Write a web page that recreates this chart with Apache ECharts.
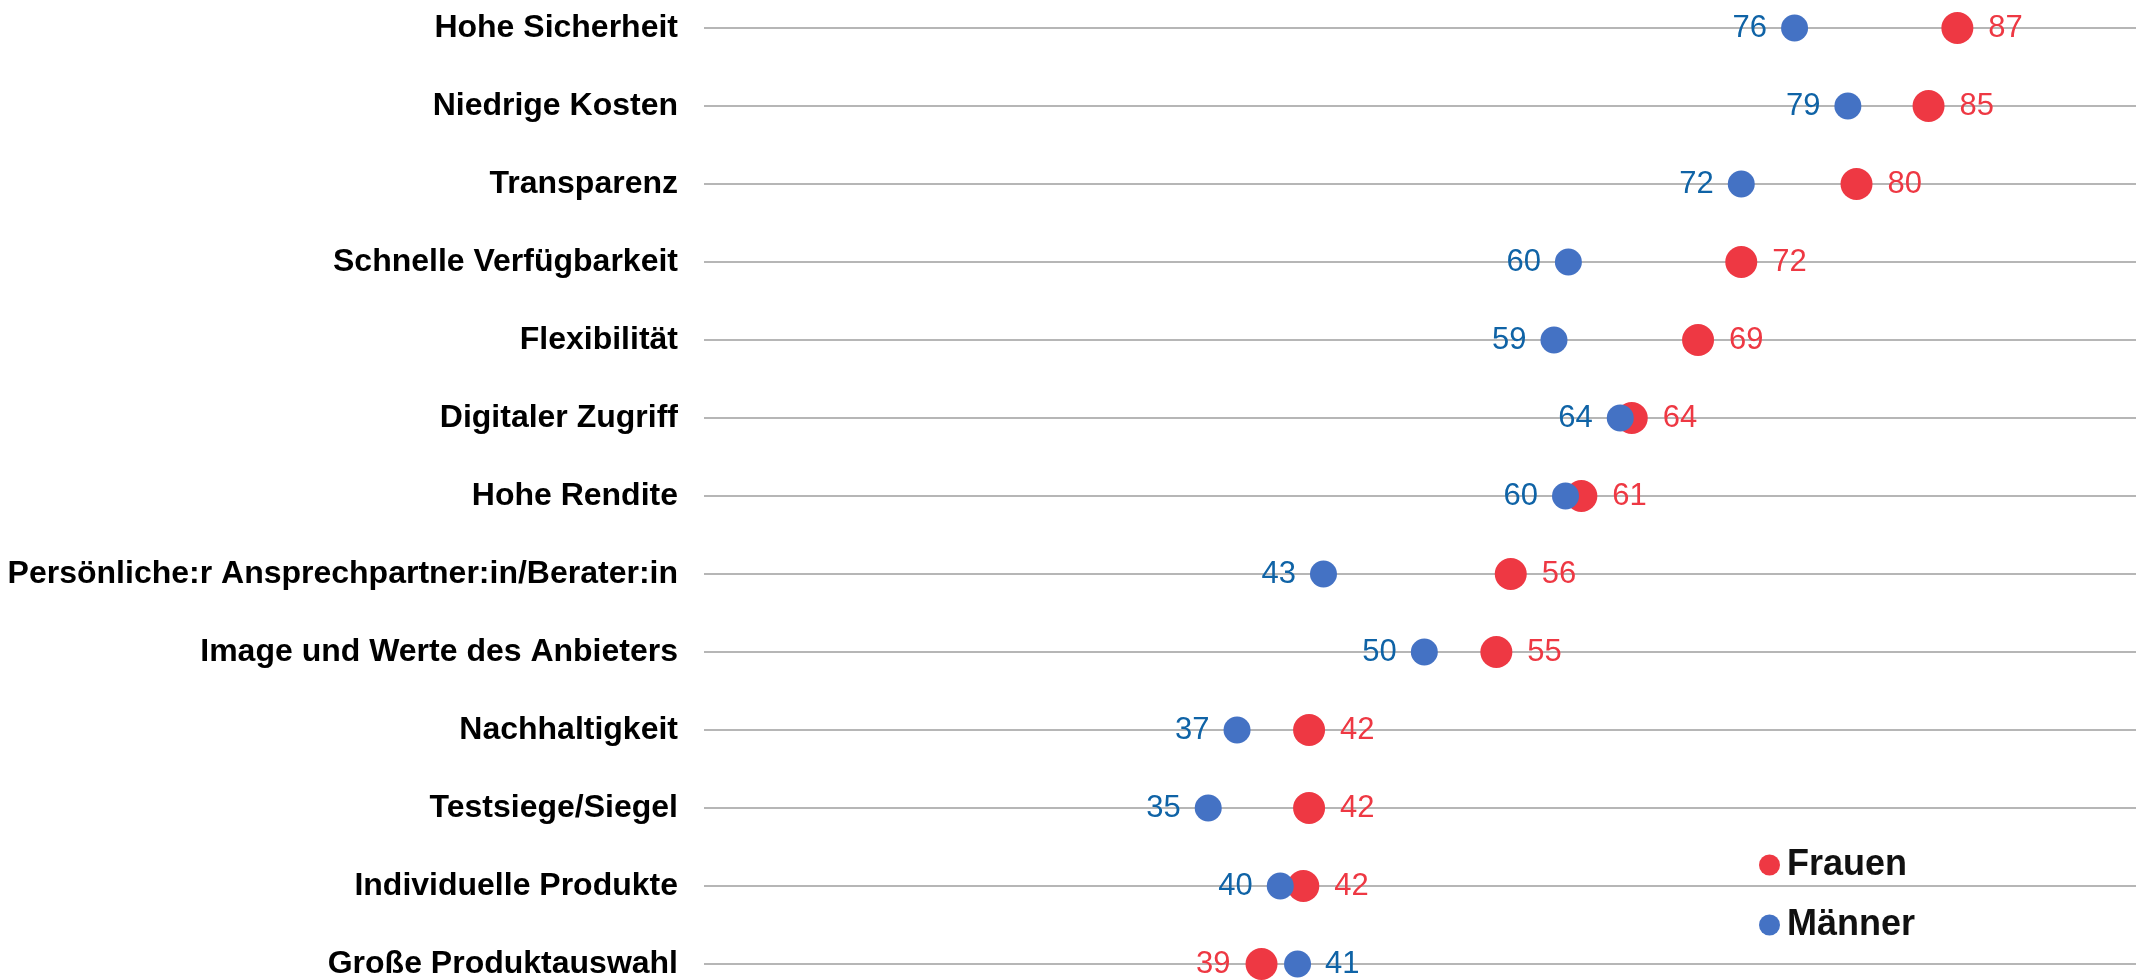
<!DOCTYPE html>
<html>
<head>
<meta charset="utf-8">
<script src="https://cdn.jsdelivr.net/npm/echarts@6/dist/echarts.min.js"></script>
<style>
  html, body { margin: 0; padding: 0; background: #fff; }
  #chart { width: 2136px; height: 980px; }
</style>
</head>
<body>
<div id="chart"></div>
<script>
// Kategorien (von oben nach unten)
const categories = [
  'Hohe Sicherheit',
  'Niedrige Kosten',
  'Transparenz',
  'Schnelle Verfügbarkeit',
  'Flexibilität',
  'Digitaler Zugriff',
  'Hohe Rendite',
  'Persönliche:r Ansprechpartner:in/Berater:in',
  'Image und Werte des Anbieters',
  'Nachhaltigkeit',
  'Testsiege/Siegel',
  'Individuelle Produkte',
  'Große Produktauswahl'
]

// Werte in % (Dezimalen dort, wo die Punkte sichtbar vom gerundeten Wert abweichen)
const frauen = [87, 85, 80, 72, 69, 64.4, 60.9, 56, 55, 42, 42, 41.6, 38.7]
const maenner = [75.7, 79.4, 72, 60, 59, 63.6, 59.8, 43, 50, 37, 35, 40, 41.2]

const RED = '#EE3843'
const BLUE = '#4472C4'
const BLUE_TEXT = '#0F63A6'

// Label rechts beim größeren Wert, links beim kleineren
const buildData = (own, other) => own.map((v, i) => ({
  value: [v, categories[i]],
  label: { position: v >= other[i] ? 'right' : 'left' }
}))

const chart = echarts.init(document.getElementById('chart'))
chart.setOption({
  animation: false,
  textStyle: { fontFamily: 'Liberation Sans, Arial, sans-serif' },
  grid: { left: 704, right: 0, top: 28, bottom: 11 },
  legend: {
    orient: 'vertical',
    left: 1754,
    top: 842,
    itemGap: 24,
    icon: 'circle',
    itemWidth: 21,
    itemHeight: 21,
    data: ['Frauen', 'Männer'],
    textStyle: { fontSize: 36, fontWeight: 'bold', color: '#111', padding: [0, 0, 0, 2] }
  },
  xAxis: {
    type: 'value',
    min: 0,
    max: 99.4,
    show: false
  },
  yAxis: {
    type: 'category',
    data: categories,
    inverse: true,
    boundaryGap: false,
    axisLine: { show: false },
    axisTick: { show: false },
    axisLabel: {
      interval: 0,
      margin: 26,
      fontSize: 32,
      fontWeight: 'bold',
      color: '#000'
    },
    splitLine: { show: true, interval: 0, lineStyle: { color: '#9e9e9e', width: 1.5 } }
  },
  series: [
    {
      name: 'Frauen',
      type: 'scatter',
      symbolSize: 32,
      itemStyle: { color: RED, opacity: 1 },
      label: {
        show: true,
        distance: 15,
        fontSize: 31,
        color: RED,
        formatter: p => Math.round(p.value[0])
      },
      data: buildData(frauen, maenner),
      z: 2
    },
    {
      name: 'Männer',
      type: 'scatter',
      symbolSize: 27,
      itemStyle: { color: BLUE, opacity: 1 },
      label: {
        show: true,
        distance: 14,
        fontSize: 31,
        color: BLUE_TEXT,
        formatter: p => Math.round(p.value[0])
      },
      data: buildData(maenner, frauen),
      z: 3
    }
  ]
})
</script>
</body>
</html>
